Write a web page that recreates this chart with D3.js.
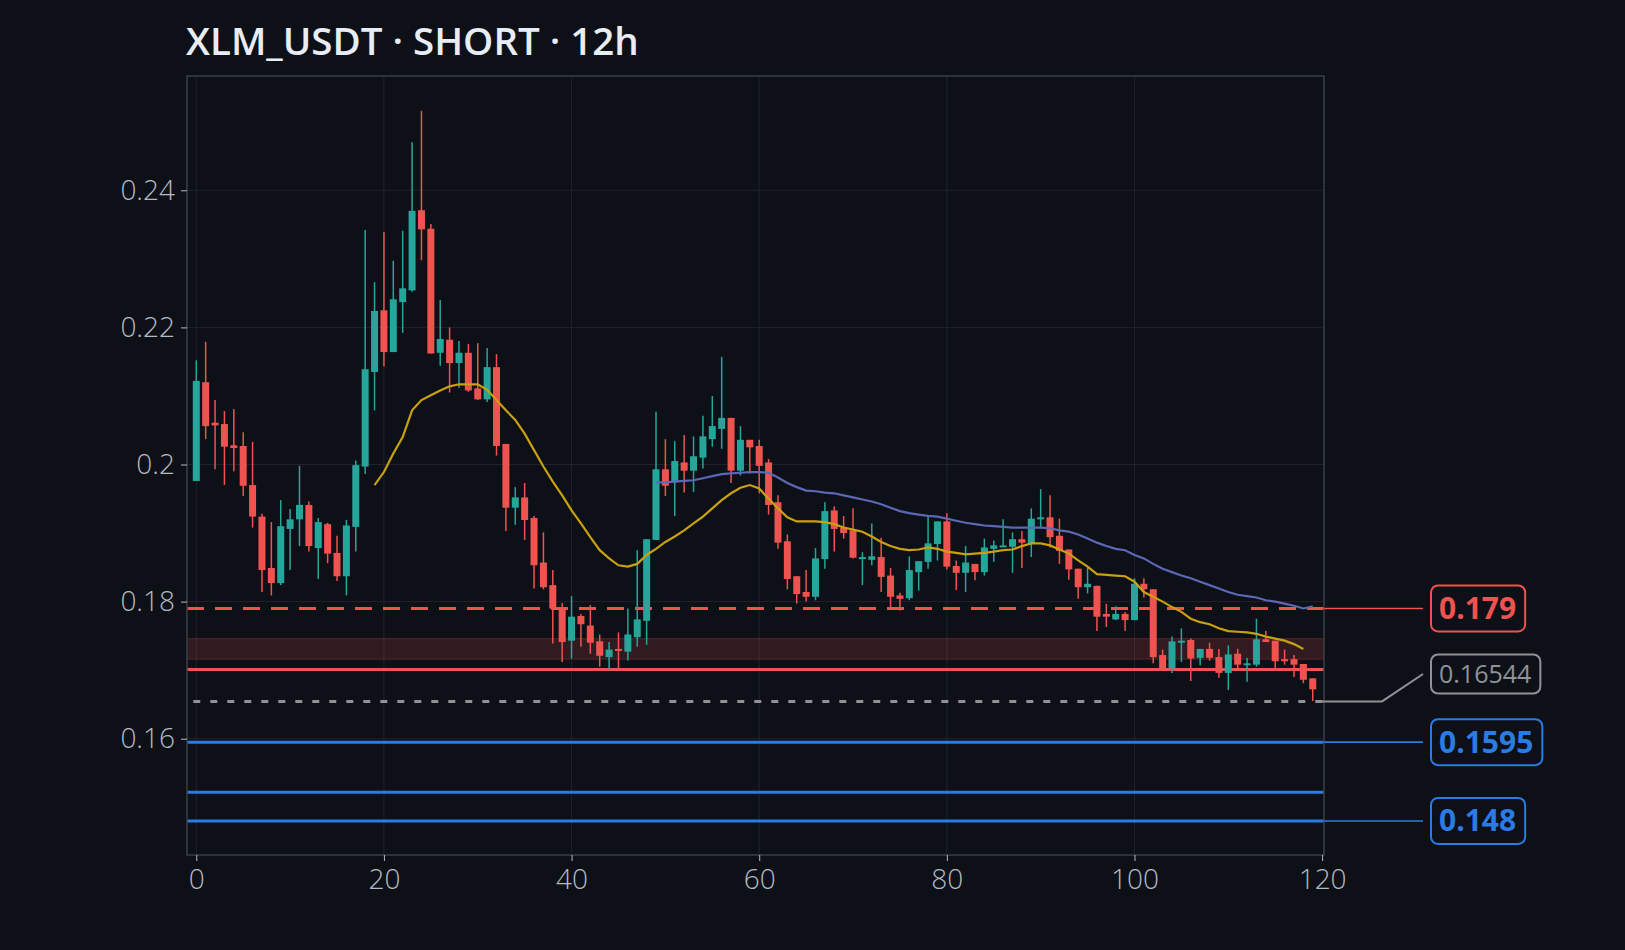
<!DOCTYPE html>
<html>
<head>
<meta charset="utf-8">
<script src="https://cdn.jsdelivr.net/npm/d3@7.9.0/dist/d3.min.js"></script>
<style>
  html, body { margin: 0; background: #0d1017; }
  svg { display: block; font-family: "Open Sans", "Noto Sans", sans-serif; }
</style>
</head>
<body>
<svg id="chart" width="1625" height="950"></svg>
<script>
const title = 'XLM_USDT · SHORT · 12h';

const opens = [0.1976,0.2120,0.2061,0.2059,0.2028,0.2027,0.1970,0.1924,0.1849,0.1827,
  0.1906,0.1920,0.1941,0.1878,0.1913,0.1871,0.1837,0.1909,0.1997,0.2135,
  0.2225,0.2164,0.2237,0.2254,0.2371,0.2344,0.2163,0.2182,0.2148,0.2163,
  0.2111,0.2095,0.2142,0.2030,0.1937,0.1952,0.1922,0.1857,0.1824,0.1792,
  0.1743,0.1779,0.1765,0.1742,0.1719,0.1731,0.1727,0.1748,0.1772,0.1890,
  0.1993,0.1974,0.2003,0.1991,0.2010,0.2037,0.2052,0.2068,0.1991,0.2036,
  0.2027,0.2003,0.1945,0.1888,0.1837,0.1814,0.1807,0.1862,0.1933,0.1908,
  0.1904,0.1862,0.1861,0.1865,0.1838,0.1809,0.1805,0.1843,0.1858,0.1884,
  0.1917,0.1852,0.1842,0.1855,0.1843,0.1877,0.1880,0.1880,0.1891,0.1885,
  0.1920,0.1923,0.1896,0.1876,0.1848,0.1821,0.1823,0.1782,0.1774,0.1782,
  0.1773,0.1826,0.1818,0.1722,0.1703,0.1740,0.1744,0.1718,0.1731,0.1719,
  0.1696,0.1724,0.1709,0.1708,0.1745,0.1743,0.1716,0.1716,0.1709,0.1688];
const highs = [0.2152,0.2179,0.2094,0.2078,0.2081,0.2047,0.2033,0.1928,0.1916,0.1948,
  0.1935,0.1998,0.1946,0.1922,0.1915,0.1896,0.1919,0.2006,0.2342,0.2266,
  0.2339,0.2297,0.2341,0.2470,0.2516,0.2351,0.2240,0.2200,0.2180,0.2176,
  0.2177,0.2170,0.2161,0.2030,0.1967,0.1973,0.1925,0.1901,0.1846,0.1798,
  0.1808,0.1782,0.1795,0.1752,0.1741,0.1755,0.1790,0.1875,0.1891,0.2077,
  0.2037,0.2034,0.2043,0.2041,0.2071,0.2100,0.2157,0.2068,0.2056,0.2036,
  0.2036,0.2008,0.1955,0.1898,0.1837,0.1846,0.1878,0.1945,0.1939,0.1925,
  0.1936,0.1872,0.1914,0.1893,0.1849,0.1813,0.1866,0.1859,0.1924,0.1917,
  0.1929,0.1860,0.1881,0.1855,0.1892,0.1889,0.1920,0.1901,0.1903,0.1936,
  0.1964,0.1955,0.1921,0.1876,0.1848,0.1850,0.1823,0.1797,0.1793,0.1785,
  0.1834,0.1834,0.1818,0.1730,0.1749,0.1761,0.1746,0.1731,0.1740,0.1731,
  0.1736,0.1731,0.1718,0.1775,0.1757,0.1743,0.1730,0.1722,0.1709,0.1688];
const lows = [0.1976,0.2037,0.1993,0.1970,0.1990,0.1954,0.1908,0.1814,0.1809,0.1824,
  0.1846,0.1881,0.1873,0.1833,0.1856,0.1830,0.1809,0.1873,0.1986,0.2079,
  0.2143,0.2164,0.2192,0.2252,0.2298,0.2162,0.2144,0.2105,0.2112,0.2106,
  0.2094,0.2091,0.2013,0.1903,0.1912,0.1890,0.1819,0.1818,0.1739,0.1712,
  0.1717,0.1734,0.1724,0.1705,0.1702,0.1700,0.1714,0.1734,0.1737,0.1890,
  0.1954,0.1925,0.1959,0.1960,0.1994,0.2026,0.2023,0.1973,0.1984,0.1987,
  0.1958,0.1927,0.1877,0.1818,0.1797,0.1800,0.1802,0.1848,0.1873,0.1892,
  0.1863,0.1824,0.1853,0.1814,0.1792,0.1787,0.1802,0.1816,0.1848,0.1860,
  0.1847,0.1817,0.1814,0.1831,0.1838,0.1858,0.1880,0.1842,0.1849,0.1865,
  0.1907,0.1879,0.1855,0.1832,0.1804,0.1812,0.1757,0.1763,0.1773,0.1757,
  0.1773,0.1806,0.1710,0.1701,0.1696,0.1712,0.1684,0.1707,0.1714,0.1689,
  0.1671,0.1702,0.1683,0.1705,0.1741,0.1700,0.1708,0.1690,0.1681,0.1655];
const closes = [0.2122,0.2056,0.2057,0.2026,0.2024,0.1969,0.1924,0.1846,0.1827,0.1910,
  0.1920,0.1941,0.1881,0.1916,0.1870,0.1837,0.1911,0.1999,0.2139,0.2224,
  0.2164,0.2241,0.2257,0.2370,0.2343,0.2162,0.2183,0.2148,0.2163,0.2108,
  0.2095,0.2142,0.2027,0.1937,0.1952,0.1919,0.1853,0.1821,0.1790,0.1741,
  0.1778,0.1767,0.1740,0.1721,0.1730,0.1728,0.1752,0.1774,0.1891,0.1993,
  0.1969,0.2005,0.1991,0.2012,0.2041,0.2056,0.2068,0.1991,0.2036,0.2025,
  0.1998,0.1941,0.1886,0.1833,0.1811,0.1807,0.1863,0.1932,0.1906,0.1900,
  0.1864,0.1865,0.1866,0.1836,0.1807,0.1804,0.1846,0.1859,0.1885,0.1917,
  0.1851,0.1842,0.1857,0.1843,0.1879,0.1882,0.1882,0.1891,0.1886,0.1921,
  0.1923,0.1894,0.1874,0.1847,0.1821,0.1826,0.1778,0.1778,0.1782,0.1773,
  0.1826,0.1818,0.1719,0.1701,0.1742,0.1743,0.1717,0.1731,0.1718,0.1696,
  0.1723,0.1708,0.1710,0.1745,0.1741,0.1713,0.1713,0.1708,0.1686,0.1672];

// yellow MA from index 19, blue MA from index 49
const maFastStart = 19;
const maFast = [0.1970,0.1989,0.2016,0.2040,0.2079,0.2094,0.2101,0.2108,0.2114,0.2117,
  0.2117,0.2117,0.2109,0.2094,0.2079,0.2065,0.2045,0.2021,0.1997,0.1975,
  0.1955,0.1933,0.1914,0.1894,0.1875,0.1863,0.1853,0.1851,0.1855,0.1868,
  0.1877,0.1887,0.1895,0.1904,0.1914,0.1924,0.1936,0.1948,0.1958,0.1966,
  0.1970,0.1965,0.1950,0.1936,0.1923,0.1917,0.1917,0.1917,0.1916,0.1913,
  0.1908,0.1905,0.1902,0.1895,0.1887,0.1881,0.1877,0.1875,0.1876,0.1879,
  0.1877,0.1873,0.1871,0.1869,0.1870,0.1871,0.1873,0.1875,0.1876,0.1881,
  0.1885,0.1885,0.1882,0.1876,0.1870,0.1860,0.1851,0.1840,0.1839,0.1838,
  0.1837,0.1829,0.1814,0.1807,0.1800,0.1792,0.1785,0.1775,0.1770,0.1767,
  0.1761,0.1757,0.1756,0.1755,0.1753,0.1749,0.1746,0.1743,0.1738,0.1731];
const maSlowStart = 49;
const maSlow = [0.1974,0.1974,0.1975,0.1976,0.1977,0.1980,0.1983,0.1986,0.1987,0.1988,
  0.1989,0.1989,0.1988,0.1981,0.1973,0.1967,0.1962,0.1961,0.1959,0.1958,
  0.1955,0.1952,0.1949,0.1946,0.1942,0.1937,0.1932,0.1929,0.1927,0.1925,
  0.1924,0.1921,0.1918,0.1915,0.1913,0.1911,0.1910,0.1909,0.1908,0.1908,
  0.1908,0.1908,0.1907,0.1904,0.1902,0.1898,0.1892,0.1886,0.1881,0.1877,
  0.1875,0.1868,0.1863,0.1855,0.1848,0.1843,0.1838,0.1834,0.1829,0.1824,
  0.1819,0.1814,0.1810,0.1808,0.1806,0.1802,0.1800,0.1797,0.1794,0.1790,
  0.1793];

const entry = 0.179;
const zone = [0.1716, 0.1746];
const stopLine = 0.1701;
const lastPrice = 0.16544;
const targets = [0.1595, 0.1522, 0.148];

const xTicks = [0, 20, 40, 60, 80, 100, 120];
const yTicks = [0.16, 0.18, 0.2, 0.22, 0.24];
const yTickLabels = ['0.16', '0.18', '0.2', '0.22', '0.24'];

const C = {
  bg: '#0d1017', grid: '#1e232b', frame: '#3a3f47', text: '#b4bac4', title: '#e8edf5',
  up: '#26a69a', down: '#ef5350', fast: '#c9a010', slow: '#5c67b5',
  blue: '#2a7be4', gray: '#8f9398'
};

const svg = d3.select('#chart');
const L = 187, R = 1324, T = 76, B = 855;

const x = d3.scaleLinear().domain([-0.99, 120.2]).range([L, R]);
const y = d3.scaleLinear().domain([0.16, 0.24]).range([738.7, 190.3]);

svg.append('rect').attr('width', 1625).attr('height', 950).attr('fill', C.bg);

svg.append('text').attr('x', 186).attr('y', 55)
  .attr('fill', C.title).attr('font-size', 38.5).attr('font-weight', 600)
  .text(title);

const g = svg.append('g');
g.append('defs').append('clipPath').attr('id', 'clip')
  .append('rect').attr('x', L).attr('y', T).attr('width', R - L).attr('height', B - T);

// grid
g.selectAll('.gx').data(xTicks.filter(d => d < 120)).join('line')
  .attr('x1', d => x(d)).attr('x2', d => x(d)).attr('y1', T).attr('y2', B)
  .attr('stroke', C.grid).attr('stroke-width', 1);
g.selectAll('.gy').data(yTicks).join('line')
  .attr('x1', L).attr('x2', R).attr('y1', d => y(d)).attr('y2', d => y(d))
  .attr('stroke', C.grid).attr('stroke-width', 1);

const plot = g.append('g').attr('clip-path', 'url(#clip)');

// zone
plot.append('rect').attr('x', L).attr('width', R - L)
  .attr('y', y(zone[1])).attr('height', y(zone[0]) - y(zone[1]))
  .attr('fill', 'rgba(239,83,80,0.17)').attr('stroke', 'rgba(239,83,80,0.25)');

// levels
plot.append('line').attr('x1', L).attr('x2', R).attr('y1', y(entry)).attr('y2', y(entry))
  .attr('stroke', C.down).attr('stroke-width', 3).attr('stroke-dasharray', '17,11');
plot.append('line').attr('x1', L).attr('x2', R).attr('y1', y(stopLine)).attr('y2', y(stopLine))
  .attr('stroke', C.down).attr('stroke-width', 3);
plot.append('line').attr('x1', x(0) - 3).attr('x2', R).attr('y1', y(lastPrice)).attr('y2', y(lastPrice))
  .attr('stroke', C.gray).attr('stroke-width', 3).attr('stroke-dasharray', '7,10');
targets.forEach(t => {
  plot.append('line').attr('x1', L).attr('x2', R).attr('y1', y(t)).attr('y2', y(t))
    .attr('stroke', C.blue).attr('stroke-width', 3);
});

// candles
const bars = d3.range(closes.length).map(i => ({
  i, o: opens[i], h: highs[i], l: lows[i], c: closes[i]
}));
const bw = 7;
bars.forEach(d => {
  const col = d.c >= d.o ? C.up : C.down;
  plot.append('line').attr('x1', x(d.i)).attr('x2', x(d.i))
    .attr('y1', y(d.h)).attr('y2', y(d.l)).attr('stroke', col).attr('stroke-width', 1.5);
  const top = y(Math.max(d.o, d.c)), bot = y(Math.min(d.o, d.c));
  plot.append('rect').attr('x', x(d.i) - bw / 2).attr('width', bw)
    .attr('y', top).attr('height', Math.max(bot - top, 2)).attr('fill', col);
});

// moving averages
const line = d3.line().x(d => x(d[0])).y(d => y(d[1]));
plot.append('path').datum(maFast.map((v, k) => [maFastStart + k, v]))
  .attr('d', line).attr('fill', 'none').attr('stroke', C.fast).attr('stroke-width', 2.2);
plot.append('path').datum(maSlow.map((v, k) => [maSlowStart + k, v]))
  .attr('d', line).attr('fill', 'none').attr('stroke', C.slow).attr('stroke-width', 2.2);

// frame
g.append('rect').attr('x', L).attr('y', T).attr('width', R - L).attr('height', B - T)
  .attr('fill', 'none').attr('stroke', C.frame).attr('stroke-width', 1.5);

// axes
const xAxis = d3.axisBottom(x).tickValues(xTicks).tickSize(6).tickPadding(8).tickFormat(d3.format('d'));
const ax = svg.append('g').attr('transform', `translate(0,${B})`).call(xAxis);
const yAxis = d3.axisLeft(y).tickValues(yTicks).tickSize(6).tickPadding(6)
  .tickFormat((d, k) => yTickLabels[k]);
const ay = svg.append('g').attr('transform', `translate(${L},0)`).call(yAxis);
[ax, ay].forEach(a => {
  a.select('.domain').remove();
  a.selectAll('line').attr('stroke', C.text);
  a.selectAll('text').attr('fill', C.text).attr('font-size', 28).attr('font-weight', 300)
    .attr('font-family', '"Open Sans", sans-serif');
});

// right-hand labels
function tag(val, text, col, yText, opts) {
  const lx = 1423;
  const gg = svg.append('g');
  if (opts.elbow) {
    gg.append('path')
      .attr('d', `M${R - 2},${y(val)} H1382 L${lx},${yText}`)
      .attr('fill', 'none').attr('stroke', col).attr('stroke-width', 2);
  } else {
    gg.append('line').attr('x1', R).attr('x2', lx).attr('y1', y(val)).attr('y2', y(val))
      .attr('stroke', col).attr('stroke-width', 1.6);
  }
  const t = gg.append('text').attr('x', 1439).attr('y', yText).attr('dy', '0.35em')
    .attr('fill', col).attr('font-size', opts.size).attr('font-weight', opts.weight)
    .text(text);
  const bb = t.node().getBBox();
  gg.insert('rect', 'text').attr('x', 1431).attr('y', yText - opts.h / 2)
    .attr('width', bb.width + 17).attr('height', opts.h).attr('rx', 7)
    .attr('fill', C.bg).attr('stroke', col).attr('stroke-width', 2);
}
tag(entry, '0.179', C.down, y(entry), { size: 30, weight: 700, h: 46 });
tag(lastPrice, '0.16544', C.gray, 674, { size: 25, weight: 400, h: 39, elbow: true });
tag(targets[0], '0.1595', C.blue, y(targets[0]), { size: 30, weight: 700, h: 46 });
tag(targets[2], '0.148', C.blue, y(targets[2]), { size: 30, weight: 700, h: 46 });
</script>
</body>
</html>
